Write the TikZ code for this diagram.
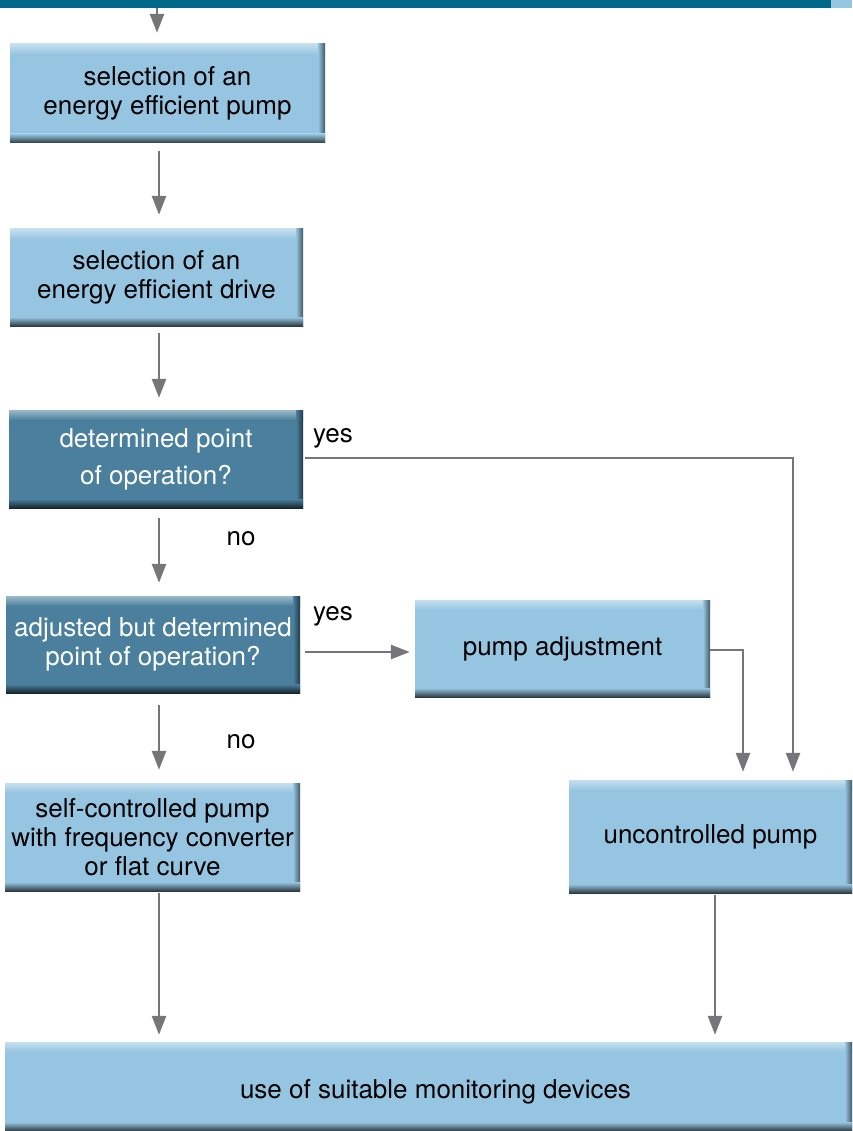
\documentclass[tikz,border=0pt]{standalone}
\usepackage{fontspec}
\setmainfont{TeX Gyre Heros}
\usetikzlibrary{arrows.meta, positioning, calc}

\definecolor{barteal}{RGB}{0,104,136}
\definecolor{boxblue}{RGB}{150,197,225}
\definecolor{boxteal}{RGB}{74,128,157}
\definecolor{arrowgray}{RGB}{118,118,122}

\begin{document}
\begin{tikzpicture}[
    x=1pt, y=-1pt,
    box/.style={rectangle, fill=#1, inner sep=0pt, align=center,
        font=\fontsize{26}{29}\selectfont,
        path picture={
            \path (path picture bounding box.south west) coordinate (sw)
                  (path picture bounding box.north east) coordinate (ne);
            \shade[top color=white!45!#1, bottom color=#1] (sw |- ne) rectangle ($(ne)+(0pt,-10pt)$);
            \shade[left color=#1, right color=black!55!#1] ($(ne)+(-7pt,0pt)$) rectangle (sw -| ne);
            \shade[top color=#1, bottom color=black!70!#1] ($(sw)+(0pt,9pt)$) rectangle (sw -| ne);
        }},
    lightbox/.style={box=boxblue, text=black},
    darkbox/.style={box=boxteal, text=white},
    label/.style={font=\fontsize{26}{29}\selectfont, inner sep=0pt},
    arrow/.style={-{Triangle[length=19pt, width=14pt]}, line width=2.6pt, draw=arrowgray}
]
\useasboundingbox (0,0) rectangle (852,1131);

% Header bar
\fill[barteal] (0,0) rectangle (831,8);
\fill[boxblue] (831,0) rectangle (852,8);

% Steps
\node[lightbox, minimum width=315pt, minimum height=99pt] (pumpsel) at (167.5,93.5) {selection of an\\energy efficient pump};
\node[lightbox, minimum width=293pt, minimum height=97pt] (drivesel) at (156.5,277.5) {selection of an\\energy efficient drive};
\node[darkbox, minimum width=294pt, minimum height=98pt] (determined) at (156,459) {determined point\\[8pt]of operation?};
\node[darkbox, minimum width=294pt, minimum height=97pt] (adjusted) at (153,644.5) {adjusted but determined\\point of operation?};
\node[lightbox, minimum width=295pt, minimum height=97pt] (adjustment) at (562.5,648.5) {pump adjustment};
\node[lightbox, minimum width=295pt, minimum height=108pt] (selfctrl) at (152.5,837) {self-controlled pump\\with frequency converter\\or flat curve};
\node[lightbox, minimum width=283pt, minimum height=113pt] (unctrl) at (710.5,836.5) {uncontrolled pump};
\node[lightbox, minimum width=847pt, minimum height=89pt] (monitor) at (428.5,1086.5) {\raisebox{-12pt}[0pt][0pt]{\hspace*{14pt}use of suitable monitoring devices}};

% Labels
\node[label] (yesdet) at (333,438) {yes};
\node[label] (nodet) at (241,539) {no};
\node[label] (yesadj) at (333,616) {yes};
\node[label] (noadj) at (241,742) {no};

% Connectors
\coordinate (entry) at (157,8);
\coordinate (spine) at (159,0);
\draw[arrow, shorten >=11pt] (entry) -- (entry |- pumpsel.north);
\draw[arrow, shorten <=8pt, shorten >=14pt] (pumpsel.south -| spine) -- (drivesel.north -| spine);
\draw[arrow, shorten <=7pt, shorten >=12pt] (drivesel.south -| spine) -- (determined.north -| spine);
\draw[arrow, shorten <=10pt, shorten >=13pt] (determined.south -| spine) -- (adjusted.north -| spine);
\draw[arrow, shorten <=12pt, shorten >=13pt] (adjusted.south -| spine) -- (selfctrl.north -| spine);
\draw[arrow, shorten <=2pt, shorten >=7pt] (selfctrl.south -| spine) -- (monitor.north -| spine);
\draw[arrow, shorten <=2pt, shorten >=7pt] (unctrl.south -| 715,0) -- (monitor.north -| 715,0);
\draw[arrow, shorten <=2pt, shorten >=8pt] (determined.east |- 0,458) -| (unctrl.north -| 793,0);
\draw[arrow, shorten <=5pt, shorten >=5pt] (adjusted.east |- adjustment.west) ++(0,3.5) -- (adjustment.west |- 0,652);
\draw[arrow, shorten >=8pt] (adjustment.east |- 0,650) -| (unctrl.north -| 743,0);

\end{tikzpicture}
\end{document}
